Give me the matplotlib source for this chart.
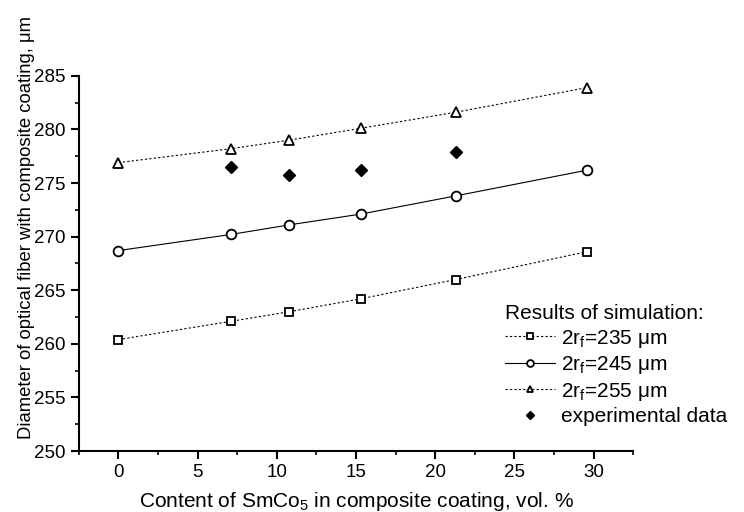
import matplotlib
matplotlib.use("Agg")
import matplotlib.pyplot as plt
from matplotlib.ticker import MultipleLocator

plt.rcParams['font.family'] = ['Liberation Sans', 'DejaVu Sans']
plt.rcParams['mathtext.fontset'] = 'custom'
plt.rcParams['mathtext.rm'] = 'Liberation Sans'

x_sim = [0, 7.1, 10.8, 15.3, 21.3, 29.6]
d235 = [260.4, 262.1, 263.0, 264.2, 266.0, 268.6]
d245 = [268.7, 270.2, 271.1, 272.1, 273.8, 276.2]
d255 = [276.9, 278.2, 279.0, 280.1, 281.6, 283.9]
x_exp = [7.1, 10.8, 15.3, 21.3]
d_exp = [276.5, 275.7, 276.2, 277.9]

labels = ["2r$_\\mathrm{f}$=235 μm", "2r$_\\mathrm{f}$=245 μm",
          "2r$_\\mathrm{f}$=255 μm", "experimental data"]

fig = plt.figure(figsize=(7.44, 5.12), dpi=100)
ax = fig.add_axes([0.106, 0.119, 0.745, 0.733])

ax.plot(x_sim, d235, linestyle=(0, (2, 2)), color='black', lw=0.8, marker='s',
        ms=6, mfc='white', mec='black', mew=1.3, label=labels[0])
ax.plot(x_sim, d245, linestyle='-', color='black', lw=0.8, marker='o',
        ms=7, mfc='white', mec='black', mew=1.3, label=labels[1])
ax.plot(x_sim, d255, linestyle=(0, (2, 2)), color='black', lw=0.8, marker='^',
        ms=7, mfc='white', mec='black', mew=1.3, label=labels[2])
ax.plot(x_exp, d_exp, linestyle='none', marker='D', ms=6, color='black',
        label=labels[3])

ax.set_xlim(-2.5, 32.5)
ax.set_ylim(250, 285)
ax.xaxis.set_major_locator(MultipleLocator(5))
ax.xaxis.set_minor_locator(MultipleLocator(2.5))
ax.yaxis.set_major_locator(MultipleLocator(5))
ax.yaxis.set_minor_locator(MultipleLocator(2.5))
ax.spines['top'].set_visible(False)
ax.spines['right'].set_visible(False)
ax.spines['left'].set_linewidth(1.5)
ax.spines['bottom'].set_linewidth(1.5)
ax.tick_params(which='major', direction='out', length=6, width=1.5, labelsize=13.5)
ax.tick_params(which='minor', direction='out', length=3, width=1.2)

ax.set_xlabel("Content of SmCo$_\\mathrm{5}$ in composite coating, vol. %", fontsize=15, labelpad=6)
ax.set_ylabel("Diameter of optical fiber with composite coating, μm", fontsize=13.3,
              family=['Liberation Sans Narrow', 'Liberation Sans'])
ax.yaxis.set_label_coords(-0.08, 0.597)

leg = fig.legend(loc='upper left', bbox_to_anchor=(505 / 744, 1 - 304 / 512), frameon=False,
                 title="Results of simulation:", fontsize=15, title_fontsize=15,
                 handlelength=2.4, handletextpad=0.3, labelspacing=0.22,
                 alignment='left', markerscale=0.7, borderpad=0, borderaxespad=0)

fig.savefig("out.png", dpi=100)
